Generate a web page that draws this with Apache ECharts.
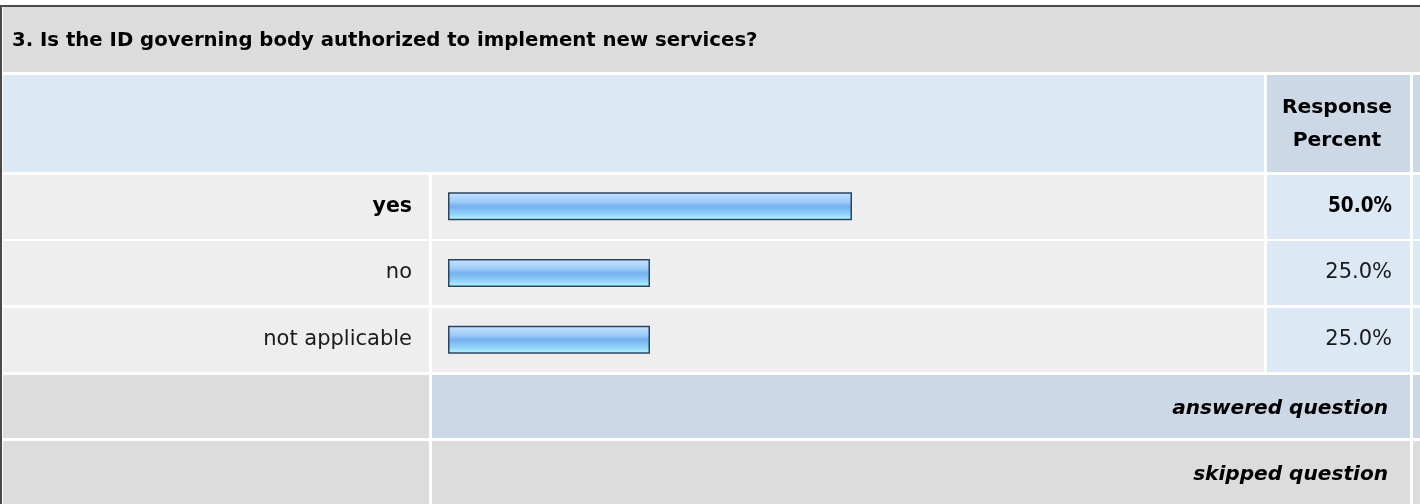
<!DOCTYPE html>
<html>
<head>
<meta charset="utf-8">
<style>
  html, body { margin: 0; padding: 0; background: #ffffff; }
  #main { width: 1420px; height: 504px; }
</style>
<script src="https://cdn.jsdelivr.net/npm/echarts@6/dist/echarts.min.js"></script>
</head>
<body>
<div id="main"></div>
<script>
var questionTitle = '3. Is the ID governing body authorized to implement new services?';
var categories = ['yes', 'no', 'not applicable'];
var responsePercent = [50.0, 25.0, 25.0];
var footerLabels = ['answered question', 'skipped question'];

var FONT = '"DejaVu Sans", Verdana, sans-serif';
var FONT_COND = '"DejaVu Sans Condensed", "DejaVu Sans", sans-serif';
var maxIdx = responsePercent.indexOf(Math.max.apply(null, responsePercent));
var percentLabels = responsePercent.map(function (v) { return v.toFixed(1) + '%'; });

var myChart = echarts.init(document.getElementById('main'));

// table cells (layout only)
function cell(x, y, w, h, color) {
    return { type: 'rect', z: -10, silent: true, shape: { x: x, y: y, width: w, height: h }, style: { fill: color } };
}
var rowTops = [175, 241, 308];
var rowH = 64;
var bg = [
    // outer border
    cell(0, 5, 1420, 2, '#4a4a4a'),
    cell(0, 5, 2, 499, '#4a4a4a'),
    // title band
    cell(3, 7, 1417, 65, '#dcdcdc'),
    // header
    cell(3, 75, 1261, 97, '#dde8f5'),
    cell(1267, 75, 143, 97, '#cdd8e6'),
    cell(1413, 75, 7, 97, '#cdd8e6'),
    // answered row
    cell(3, 375, 426, 63, '#dcdcdc'),
    cell(432, 375, 978, 63, '#cdd8e6'),
    cell(1413, 375, 7, 63, '#cdd8e6'),
    // skipped row
    cell(3, 441, 426, 63, '#dcdcdc'),
    cell(432, 441, 978, 63, '#dcdcdc'),
    cell(1413, 441, 7, 63, '#dcdcdc')
];
rowTops.forEach(function (t) {
    bg.push(cell(3, t, 426, rowH, '#eeeeee'));
    bg.push(cell(432, t, 832, rowH, '#eeeeee'));
    bg.push(cell(1267, t, 143, rowH, '#dde8f5'));
    bg.push(cell(1413, t, 7, rowH, '#dde8f5'));
});
function txt(x, y, s, font, align) {
    return {
        type: 'text', z: 10, silent: true,
        style: { x: x, y: y, text: s, fill: '#000', font: font, align: align, verticalAlign: 'middle' }
    };
}
bg.push(txt(1337, 108, 'Response', 'bold 20.3px ' + FONT, 'center'));
bg.push(txt(1337, 141, 'Percent', 'bold 20.3px ' + FONT, 'center'));
bg.push(txt(1388, 409, footerLabels[0], 'italic bold 20.1px ' + FONT, 'right'));
bg.push(txt(1388, 475, footerLabels[1], 'italic bold 20.1px ' + FONT, 'right'));

option = {
    animation: false,
    title: {
        text: questionTitle,
        left: 7,
        top: 26,
        textStyle: {
            fontFamily: FONT,
            fontSize: 19.7,
            fontWeight: 'bold',
            color: '#000'
        }
    },
    graphic: bg,
    grid: {
        left: 448,
        right: 164,
        top: 173,
        bottom: 131
    },
    xAxis: {
        type: 'value',
        min: 0,
        max: 100,
        show: false
    },
    yAxis: [
        {
            type: 'category',
            data: categories,
            inverse: true,
            axisLine: { show: false },
            axisTick: { show: false },
            splitLine: { show: false },
            axisLabel: {
                margin: 36,
                fontFamily: FONT,
                fontSize: 21,
                color: '#1a1a1a',
                formatter: function (v, i) {
                    return i === maxIdx ? '{b|' + v + '}' : v;
                },
                rich: {
                    b: { fontFamily: FONT, fontSize: 20.5, fontWeight: 'bold', color: '#000' }
                }
            }
        },
        {
            type: 'category',
            data: percentLabels,
            inverse: true,
            position: 'right',
            axisLine: { show: false },
            axisTick: { show: false },
            splitLine: { show: false },
            axisLabel: {
                margin: 136,
                align: 'right',
                fontFamily: FONT,
                fontSize: 21,
                color: '#1a1a1a',
                formatter: function (v, i) {
                    return i === maxIdx ? '{b|' + v + '}' : v;
                },
                rich: {
                    b: { fontFamily: FONT_COND, fontSize: 20.5, fontWeight: 'bold', color: '#000' }
                }
            }
        }
    ],
    series: [
        {
            type: 'bar',
            data: responsePercent,
            barWidth: 28,
            silent: true,
            itemStyle: {
                color: new echarts.graphic.LinearGradient(0, 0, 0, 1, [
                    { offset: 0, color: '#c8e4ff' },
                    { offset: 0.35, color: '#9ccaf8' },
                    { offset: 0.5, color: '#76b0ef' },
                    { offset: 0.78, color: '#92d2fa' },
                    { offset: 1, color: '#b6fcff' }
                ]),
                borderColor: '#2b4460',
                borderWidth: 1.5
            }
        }
    ]
};
myChart.setOption(option);
</script>
</body>
</html>
